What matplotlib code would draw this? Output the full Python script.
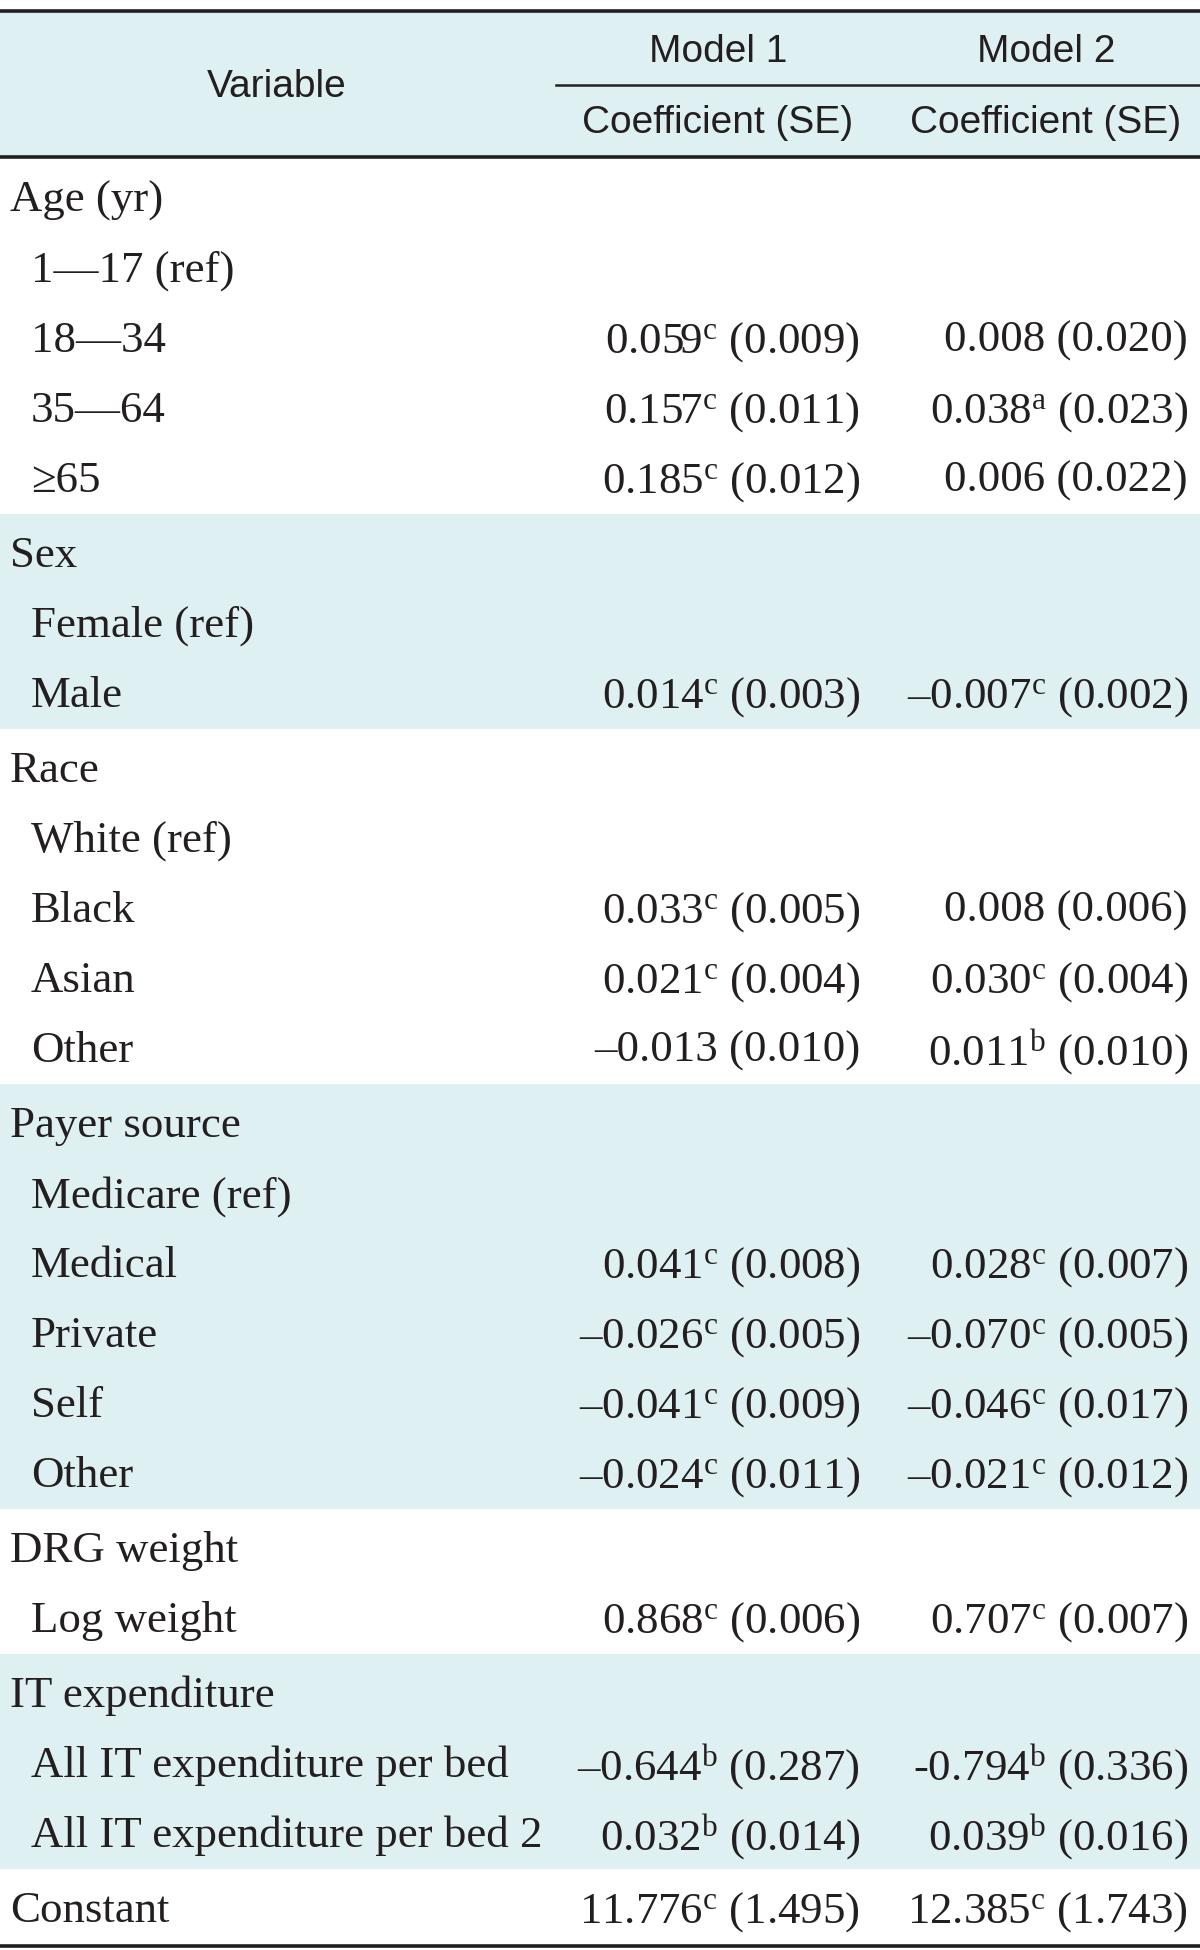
import matplotlib
matplotlib.use('Agg')
import matplotlib.pyplot as plt
from matplotlib.patches import Rectangle

plt.rcParams['mathtext.fontset'] = 'custom'
plt.rcParams['mathtext.rm'] = 'Liberation Serif'
plt.rcParams['mathtext.it'] = 'Liberation Serif:italic'

# table content
groups = ['Age (yr)', 'Sex', 'Race', 'Payer source', 'DRG weight', 'IT expenditure', 'Constant']
group_rows = [
    ['1\u201417 (ref)', '18\u201434', '35\u201464', '\u226565'],
    ['Female (ref)', 'Male'],
    ['White (ref)', 'Black', 'Asian', 'Other'],
    ['Medicare (ref)', 'Medical', 'Private', 'Self', 'Other'],
    ['Log weight'],
    ['All IT expenditure per bed', 'All IT expenditure per bed 2'],
    [],
]
shaded = [False, True, False, True, False, True, False]

# model 1: coefficient, significance mark, SE
m1_coef = ['', '0.059', '0.157', '0.185', '', '0.014', '', '0.033', '0.021', '\u20130.013',
           '', '0.041', '\u20130.026', '\u20130.041', '\u20130.024', '0.868', '\u20130.644', '0.032', '11.776']
m1_sig = ['', 'c', 'c', 'c', '', 'c', '', 'c', 'c', '',
          '', 'c', 'c', 'c', 'c', 'c', 'b', 'b', 'c']
m1_se = ['', '0.009', '0.011', '0.012', '', '0.003', '', '0.005', '0.004', '0.010',
         '', '0.008', '0.005', '0.009', '0.011', '0.006', '0.287', '0.014', '1.495']
m2_coef = ['', '0.008', '0.038', '0.006', '', '\u20130.007', '', '0.008', '0.030', '0.011',
           '', '0.028', '\u20130.070', '\u20130.046', '\u20130.021', '0.707', '-0.794', '0.039', '12.385']
m2_sig = ['', '', 'a', '', '', 'c', '', '', 'c', 'b',
          '', 'c', 'c', 'c', 'c', 'c', 'b', 'b', 'c']
m2_se = ['', '0.020', '0.023', '0.022', '', '0.002', '', '0.006', '0.004', '0.010',
         '', '0.007', '0.005', '0.017', '0.012', '0.007', '0.336', '0.016', '1.743']

ink = '#231f20'
band = '#dff0f3'
body_font = ['Liberation Serif', 'DejaVu Serif']
head_font = ['Liberation Sans Narrow', 'Liberation Sans', 'DejaVu Sans']
fs = 32.3
hfs = 28

fig = plt.figure(figsize=(12, 19.5), dpi=100)
ax = fig.add_axes([0, 0, 1, 1])
ax.set_xlim(0, 1200)
ax.set_ylim(1950, 0)
ax.axis('off')


def cell(coef, sig, se):
    if not coef:
        return ''
    if sig:
        return coef + r'$^{\mathrm{' + sig + '}}$ (' + se + ')'
    return coef + ' (' + se + ')'


# header
ax.add_patch(Rectangle((0, 11), 1200, 146, color=band, lw=0, zorder=0))
ax.plot([0, 1200], [11, 11], color=ink, lw=2.6)
ax.plot([0, 1200], [157, 157], color=ink, lw=2.6)
ax.plot([556, 1200], [85, 85], color=ink, lw=1.8)
ax.text(277, 87, 'Variable', ha='center', va='center', fontsize=hfs, family=head_font, color=ink)
for xc, name in [(718, 'Model 1'), (1046, 'Model 2')]:
    ax.text(xc, 52, name, ha='center', va='center', fontsize=hfs, family=head_font, color=ink)
    ax.text(xc, 123, 'Coefficient (SE)', ha='center', va='center', fontsize=hfs, family=head_font, color=ink)

# body
pitch = 70
gap = 5
y = 196.5
k = 0
for g, name in enumerate(groups):
    rows = [(name, 10)] + [(r, 31) for r in group_rows[g]]
    ys = []
    for label, x in rows:
        ys.append(y)
        ax.text(x, y, label, ha='left', va='center_baseline', fontsize=fs, family=body_font, color=ink)
        has_value = label == 'Constant' or x == 31
        if has_value and m1_coef[k]:
            ax.text(860, y, cell(m1_coef[k], m1_sig[k], m1_se[k]), ha='right', va='center_baseline',
                    fontsize=fs, family=body_font, color=ink)
            ax.text(1188, y, cell(m2_coef[k], m2_sig[k], m2_se[k]), ha='right', va='center_baseline',
                    fontsize=fs, family=body_font, color=ink)
        if has_value:
            k += 1
        y += pitch
    if shaded[g]:
        top = ys[0] - (pitch + gap) / 2
        bot = ys[-1] + (pitch + gap) / 2
        ax.add_patch(Rectangle((0, top), 1200, bot - top, color=band, lw=0, zorder=0))
    y += gap

ax.plot([0, 1200], [1946, 1946], color=ink, lw=2.6)

fig.savefig('out.png', dpi=100)
